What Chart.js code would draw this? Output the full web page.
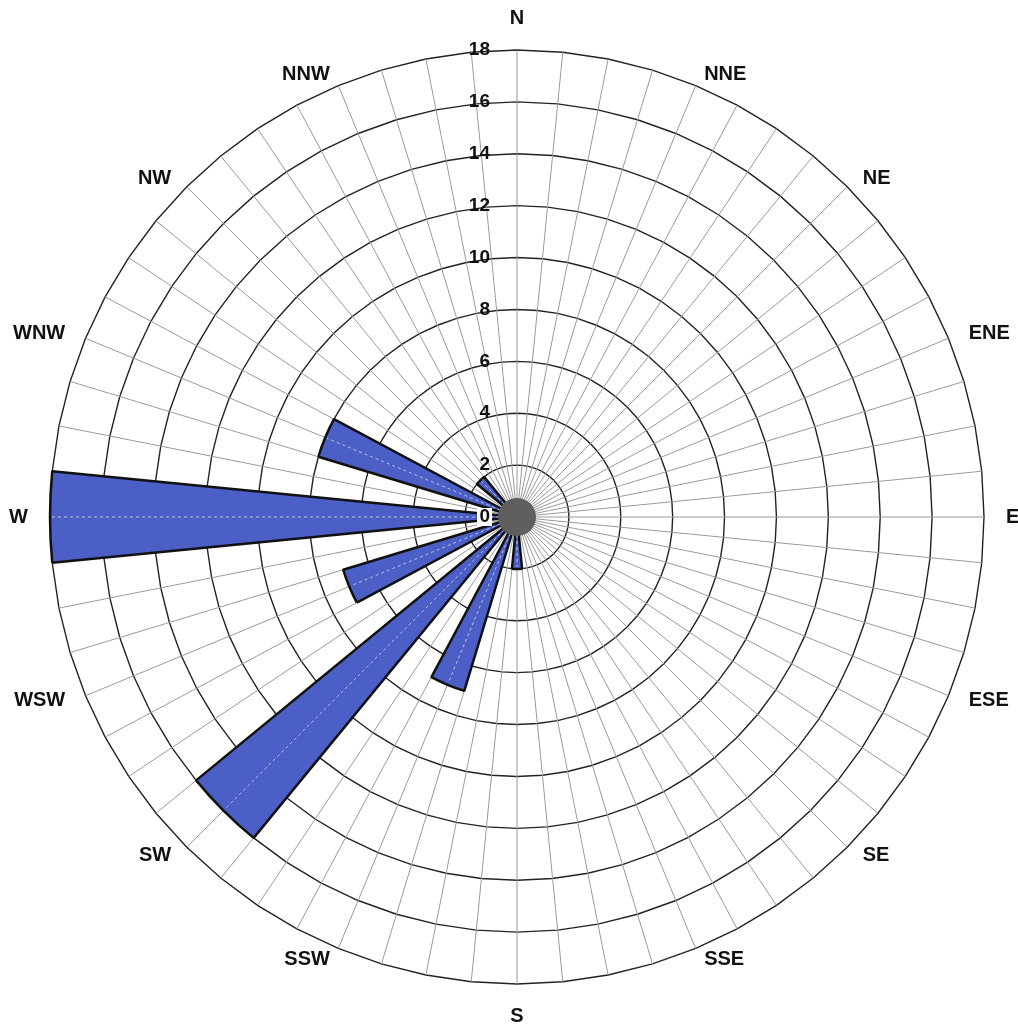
<!DOCTYPE html>
<html>
<head>
    <title>Wind Rose</title>
    <script src="https://cdnjs.cloudflare.com/ajax/libs/Chart.js/4.4.1/chart.umd.min.js"></script>
    <style>
        body { margin: 0; background: #fff; }
        .chart-container {
            width: 1018px;
            height: 1029px;
            position: relative;
        }
    </style>
</head>
<body>
    <div class="chart-container">
        <canvas id="myChart"></canvas>
    </div>

    <script>
        // 16 compass sectors, clockwise from north
        const directions = ['N', 'NNE', 'NE', 'ENE', 'E', 'ESE', 'SE', 'SSE',
                            'S', 'SSW', 'SW', 'WSW', 'W', 'WNW', 'NW', 'NNW'];
        // frequency per sector
        const frequencies = [0, 0, 0, 0, 0, 0, 0, 0,
                             2, 7, 16, 7, 18, 8, 2, 0];
        const tickValues = [0, 2, 4, 6, 8, 10, 12, 14, 16, 18];

        // grid has 64 spokes; each wedge is two spokes wide, gaps in between
        const spokeLabels = [];
        for (let i = 0; i < 64; i++) {
            spokeLabels.push((i - 1) % 4 === 0 ? directions[(i - 1) / 4] : '');
        }
        const wedgeData = [];
        frequencies.forEach(v => { wedgeData.push(v); wedgeData.push(0); });

        const roseExtras = {
            id: 'roseExtras',
            afterDatasetsDraw(chart) {
                const r = chart.scales.r;
                const ctx = chart.ctx;
                ctx.save();

                // light centre line on each wedge
                ctx.strokeStyle = 'rgba(225,225,235,0.75)';
                ctx.lineWidth = 1;
                ctx.setLineDash([3, 3]);
                frequencies.forEach((v, k) => {
                    if (!v) return;
                    const p = r.getPointPosition(4 * k + 1, r.getDistanceFromCenterForValue(v) - 2);
                    ctx.beginPath();
                    ctx.moveTo(r.xCenter, r.yCenter);
                    ctx.lineTo(p.x, p.y);
                    ctx.stroke();
                });
                ctx.setLineDash([]);

                // dark hub where the spokes meet
                ctx.fillStyle = '#5f5f5f';
                ctx.beginPath();
                ctx.arc(r.xCenter, r.yCenter, 19, 0, Math.PI * 2);
                ctx.fill();

                // ring values, left of the north spoke
                ctx.font = 'bold 19px "Liberation Sans", Arial, sans-serif';
                ctx.textAlign = 'right';
                ctx.textBaseline = 'middle';
                tickValues.forEach(t => {
                    const y = r.yCenter - r.getDistanceFromCenterForValue(t);
                    const x = r.xCenter - 27;
                    if (t === 0) {
                        ctx.fillStyle = '#fff';
                        ctx.fillRect(x - 13, y - 9, 15, 18);
                    }
                    ctx.fillStyle = '#111';
                    ctx.fillText(String(t), x, y);
                });

                // compass labels, anchored on the side facing the rose
                ctx.font = 'bold 20px "Liberation Sans", Arial, sans-serif';
                ctx.textBaseline = 'middle';
                directions.forEach((d, k) => {
                    const a = k * Math.PI / 8;
                    const s = Math.sin(a), c = Math.cos(a);
                    const onAxis = Math.abs(s) < 0.01;
                    const rx = r.drawingArea + 22;
                    const ry = onAxis ? r.drawingArea + 32 : r.drawingArea + 12;
                    ctx.textAlign = onAxis ? 'center' : (s > 0 ? 'left' : 'right');
                    ctx.fillText(d, r.xCenter + s * rx, r.yCenter - c * ry);
                });
                ctx.restore();
            }
        };

        const ctx = document.getElementById('myChart').getContext('2d');
        new Chart(ctx, {
            type: 'polarArea',
            data: {
                labels: spokeLabels,
                datasets: [{
                    label: 'Frequency',
                    data: wedgeData,
                    backgroundColor: '#4b5fc6',
                    borderColor: '#111',
                    borderWidth: c => (c.raw > 0 ? 2.5 : 0)
                }]
            },
            options: {
                responsive: true,
                maintainAspectRatio: false,
                animation: false,
                layout: {
                    padding: { left: 50, right: 34, top: 50, bottom: 45 }
                },
                plugins: {
                    legend: { display: false },
                    tooltip: { enabled: false }
                },
                scales: {
                    r: {
                        min: 0,
                        max: 18,
                        startAngle: -5.625,
                        ticks: { stepSize: 2, display: false },
                        grid: { circular: false, color: '#222', lineWidth: 1.4 },
                        angleLines: { display: true, color: '#9a9a9a', lineWidth: 1 },
                        pointLabels: { display: false }
                    }
                }
            },
            plugins: [roseExtras]
        });
    </script>
</body>
</html>
